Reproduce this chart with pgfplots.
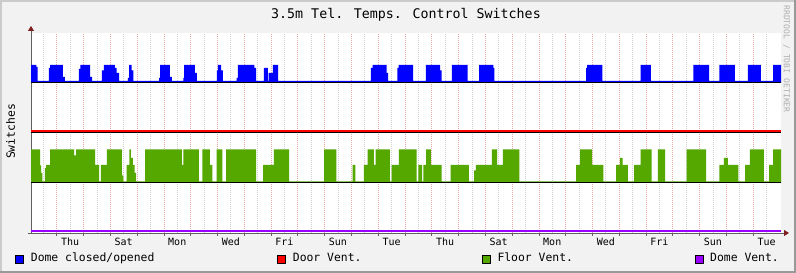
\documentclass[border=0pt]{standalone}
\usepackage{pgfplots}
\usepackage{pgfplotstable}
\pgfplotsset{compat=1.18}
\usetikzlibrary{arrows.meta}
\usepackage{fontspec}
\newfontfamily\mono{DejaVu Sans Mono}
\definecolor{bgc}{RGB}{242,242,242}
\definecolor{shadea}{RGB}{203,203,203}
\definecolor{shadeb}{RGB}{153,153,153}
\definecolor{domeblue}{RGB}{0,0,255}
\definecolor{doorred}{RGB}{255,0,0}
\definecolor{floorgreen}{RGB}{84,168,0}
\definecolor{ventpurple}{RGB}{153,0,255}
\definecolor{majgrid}{RGB}{232,168,168}
\definecolor{mingrid}{RGB}{208,208,208}
\definecolor{axisc}{RGB}{100,95,95}
\definecolor{arrowc}{RGB}{127,31,31}
\definecolor{wmark}{RGB}{175,175,175}

% Dome closed/opened: switch level, time in days from left edge
\pgfplotstableread{
t v
0 0.36
0.20 0.32
0.25 0.04
0.67 0.30
0.71 0.36
1.19 0.12
1.26 0.04
1.79 0.28
1.84 0.36
2.21 0.12
2.28 0.04
2.65 0.25
2.72 0.36
3.13 0.30
3.20 0.20
3.29 0.04
3.62 0.10
3.66 0.36
3.76 0.25
3.82 0.04
4.78 0.10
4.82 0.36
5.18 0.12
5.26 0.04
5.69 0.10
5.72 0.36
6.12 0.20
6.19 0.04
6.94 0.25
6.98 0.36
7.10 0.25
7.16 0.04
7.68 0.10
7.72 0.36
8.34 0.30
8.40 0.04
8.69 0.30
8.84 0.04
8.87 0.20
9.03 0.36
9.23 0.04
12.69 0.30
12.75 0.36
13.28 0.20
13.33 0.04
13.68 0.30
13.72 0.36
14.27 0.04
14.74 0.36
15.27 0.25
15.33 0.04
15.71 0.36
16.30 0.04
16.73 0.36
17.26 0.30
17.30 0.04
20.72 0.30
20.76 0.36
21.33 0.04
22.76 0.36
23.14 0.04
24.73 0.36
25.32 0.04
25.70 0.36
26.28 0.04
26.76 0.36
27.25 0.04
27.71 0.36
28 0.36
}\domedata

% Floor Vent.: switch level
\pgfplotstableread{
t v
0 0.67
0.34 0.35
0.38 0.20
0.42 0.03
0.52 0.30
0.56 0.36
0.71 0.67
1.61 0.55
1.68 0.67
2.39 0.36
2.54 0.03
2.61 0.36
2.83 0.67
3.39 0.15
3.45 0.03
3.57 0.36
3.67 0.67
3.73 0.50
3.80 0.36
3.87 0.20
3.92 0.03
4.26 0.67
5.63 0.36
5.69 0.67
6.27 0.03
6.40 0.67
6.68 0.36
6.77 0.03
6.93 0.67
7.14 0.03
7.28 0.67
8.40 0.03
8.67 0.36
9.07 0.67
9.64 0.03
10.94 0.67
11.40 0.03
12.01 0.36
12.11 0.03
12.43 0.36
12.57 0.67
12.80 0.36
12.87 0.67
13.40 0.03
13.46 0.36
13.73 0.67
14.40 0.03
14.46 0.36
14.60 0.03
14.65 0.36
14.75 0.67
14.93 0.36
15.33 0.03
15.67 0.36
16.35 0.03
16.54 0.25
16.61 0.36
17.21 0.67
17.40 0.36
17.62 0.67
18.23 0.03
20.35 0.36
20.50 0.67
20.95 0.36
21.37 0.03
21.84 0.36
21.99 0.50
22.09 0.36
22.28 0.03
22.52 0.36
22.76 0.67
23.17 0.03
23.40 0.67
23.67 0.03
24.48 0.67
25.20 0.03
25.70 0.36
25.87 0.50
26.02 0.36
26.41 0.03
26.66 0.36
26.84 0.67
27.36 0.03
27.56 0.36
27.71 0.67
28 0.67
}\floordata

\pgfplotsset{ovl/.style={at={(31pt,40pt)}, anchor=south west,
  scale only axis, width=750pt, height=200pt, xmin=0, xmax=28}}

\begin{document}
\begin{tikzpicture}
\fill[bgc] (0pt,0pt) rectangle (796pt,273pt);
\fill[shadea] (0pt,0pt) rectangle (2pt,273pt);
\fill[shadea] (0pt,271pt) rectangle (796pt,273pt);
\fill[shadeb] (794pt,0pt) rectangle (796pt,273pt);
\fill[shadeb] (0pt,0pt) rectangle (796pt,2pt);
% frame axis: canvas, grid, axes, day labels
\begin{axis}[ovl,
  ymin=0, ymax=4,
  axis x line=bottom, axis y line=left,
  axis line style={draw=axisc, line width=0.9pt},
  x axis line style={-{Triangle[length=5pt,width=6pt,color=arrowc]}, shorten >=-8pt},
  y axis line style={-{Triangle[length=5pt,width=6pt,color=arrowc]}, shorten >=-7pt},
  axis background/.style={fill=white},
  xtick={0.96,1.96,...,26.96},
  xticklabels={},
  minor xtick={0.46,1.46,...,27.46},
  extra x ticks={1.46,3.46,...,27.46},
  extra x tick labels={Thu,Sat,Mon,Wed,Fri,Sun,Tue,Thu,Sat,Mon,Wed,Fri,Sun,Tue},
  extra x tick style={grid=none, major tick length=0pt},
  ytick={0}, yticklabels={},
  xmajorgrids, xminorgrids,
  major grid style={draw=majgrid, dash pattern=on 1pt off 1pt, line width=0.7pt},
  minor grid style={draw=mingrid, dash pattern=on 1pt off 1pt, line width=0.7pt},
  tick align=outside, major tick length=3pt, minor tick length=0pt,
  tick style={draw=axisc, line width=0.6pt},
  x tick label style={font=\mono\fontsize{10}{12}\selectfont, anchor=base, yshift=-12.7pt},
]
\end{axis}
% Dome closed/opened, baseline at 3
\begin{axis}[ovl, hide axis, ymin=-3, ymax=1]
\addplot[const plot, fill=domeblue, draw=none] table[x=t,y=v] {\domedata} \closedcycle;
\addplot[draw=black, line width=1pt, mark=none] coordinates {(0,0) (28,0)};
\end{axis}
% Floor Vent., baseline at 1
\begin{axis}[ovl, hide axis, ymin=-1, ymax=3]
\addplot[const plot, fill=floorgreen, draw=none] table[x=t,y=v] {\floordata} \closedcycle;
\addplot[draw=black, line width=1pt, mark=none] coordinates {(0,0) (28,0)};
\end{axis}
% Door Vent. (baseline 2)
\begin{axis}[ovl, hide axis, ymin=-2, ymax=2]
\addplot[draw=black, line width=1pt, mark=none] coordinates {(0,0) (28,0)};
\addplot[color=red, line width=1.8pt, mark=none] coordinates {(0,0.035) (28,0.035)};
\end{axis}
% Dome Vent. (baseline 0)
\begin{axis}[ovl, hide axis, ymin=0, ymax=4]
\addplot[color={rgb,255:red,153;green,0;blue,255}, line width=1.8pt, mark=none] coordinates {(0,0.035) (28,0.035)};
\end{axis}
% title
\node[anchor=base, inner sep=0, font=\mono\fontsize{13.3}{15}\selectfont] at (406pt,254.7pt) {3.5m Tel. Temps. Control Switches};
% y label
\node[rotate=90, inner sep=0, font=\mono\fontsize{11.4}{13}\selectfont] at (10.5pt,141.5pt) {Switches};
% watermark
\node[rotate=-90, inner sep=0, text=wmark, font=\mono\fontsize{8.1}{9}\selectfont] at (786.5pt,214pt) {RRDTOOL / TOBI OETIKER};
% legend
\filldraw[fill=domeblue, draw=black, line width=0.6pt] (15pt,10pt) rectangle (23pt,18pt);
\node[anchor=base west, inner sep=0, font=\mono\fontsize{11.4}{13}\selectfont] at (30.7pt,11.3pt) {Dome closed/opened};
\filldraw[fill=doorred, draw=black, line width=0.6pt] (277.3pt,10pt) rectangle (285.3pt,18pt);
\node[anchor=base west, inner sep=0, font=\mono\fontsize{11.4}{13}\selectfont] at (292.7pt,11.3pt) {Door Vent.};
\filldraw[fill=floorgreen, draw=black, line width=0.6pt] (482.3pt,10pt) rectangle (490.3pt,18pt);
\node[anchor=base west, inner sep=0, font=\mono\fontsize{11.4}{13}\selectfont] at (497.3pt,11.3pt) {Floor Vent.};
\filldraw[fill=ventpurple, draw=black, line width=0.6pt] (695.3pt,10pt) rectangle (703.3pt,18pt);
\node[anchor=base west, inner sep=0, font=\mono\fontsize{11.4}{13}\selectfont] at (710pt,11.3pt) {Dome Vent.};
\end{tikzpicture}
\end{document}
